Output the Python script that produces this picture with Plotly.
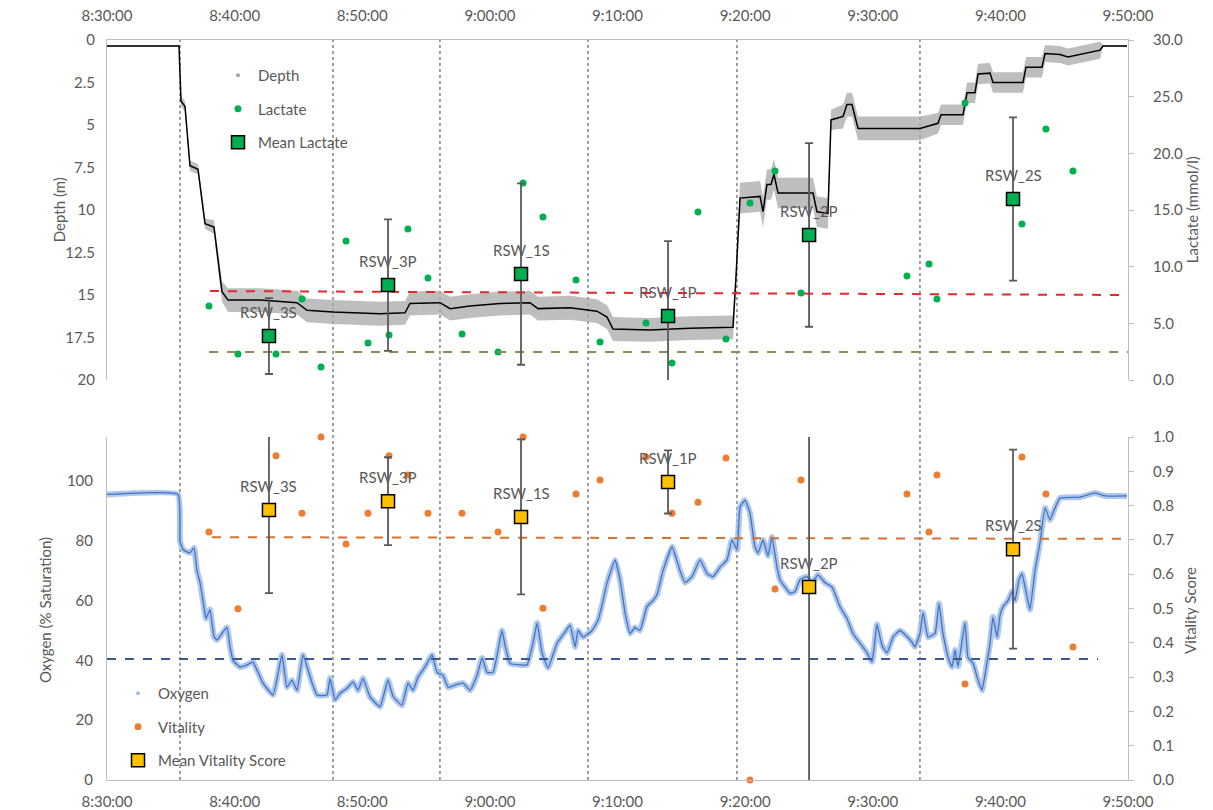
import plotly.graph_objects as go
import pandas as pd

BASE = pd.Timestamp("2020-01-01 08:30:00")

def to_time(mins):
    return [BASE + pd.Timedelta(minutes=m) for m in mins]

# ---------------- data (time as minutes after 8:30:00) ----------------
depth_min = [0, 5.64, 5.80, 6.11, 6.50, 7.13, 7.68, 8.38, 9.01, 9.48,
             11.99, 14.89, 15.67, 17.71, 21.39, 23.35, 23.74, 26.09, 26.88, 28.44,
             30.79, 33.14, 33.77, 36.28, 38.39, 39.18, 39.65, 42.55, 45.68, 49.05,
             49.28, 49.60, 51.17, 51.40, 51.71, 52.03, 52.26, 52.58, 55.32, 55.63,
             56.49, 56.73, 57.67, 57.98, 58.37, 58.85, 63.70, 65.11, 65.35, 67.07,
             67.39, 68.01, 68.25, 69.19, 69.42, 71.77, 72.01, 73.26, 73.50, 74.67,
             75.30, 76.63, 77.81, 78.04, 79.92]
depth_m = [0.35, 0.35, 3.6, 3.9, 7.4, 7.6, 10.8, 11.0, 14.8, 15.3,
           15.3, 15.45, 15.9, 16.0, 16.1, 16.05, 15.5, 15.45, 15.8, 15.65,
           15.5, 15.45, 15.8, 15.75, 15.95, 16.3, 17.0, 17.05, 16.95, 16.9,
           14.0, 9.3, 9.2, 10.1, 8.5, 8.5, 7.9, 9.0, 9.0, 10.1,
           10.2, 4.7, 4.5, 3.8, 3.8, 5.2, 5.2, 4.9, 4.4, 4.4,
           3.1, 3.1, 2.0, 1.95, 2.5, 2.5, 1.6, 1.6, 0.8, 0.85,
           1.0, 0.8, 0.6, 0.35, 0.35]
depth_spread = [0.05, 0.05, 0.3, 0.3, 0.3, 0.3, 0.3, 0.4, 0.6, 0.7,
                0.7, 0.7, 0.7, 0.7, 0.7, 0.7, 0.7, 0.7, 0.7, 0.7,
                0.7, 0.7, 0.7, 0.7, 0.7, 0.7, 0.7, 0.7, 0.7, 0.7,
                0.5, 0.9, 0.9, 0.9, 0.9, 0.9, 0.9, 0.9, 0.9, 0.9,
                0.9, 0.6, 0.7, 0.7, 0.7, 0.7, 0.7, 0.6, 0.6, 0.6,
                0.6, 0.6, 0.6, 0.6, 0.6, 0.6, 0.6, 0.6, 0.5, 0.5,
                0.5, 0.5, 0.5, 0.05, 0.05]

oxy_min = [0.00, 5.56, 5.72, 5.96, 6.50, 6.82, 7.05, 7.29, 7.52, 7.76,
           8.07, 8.38, 8.62, 9.01, 9.40, 9.64, 9.87, 10.42, 10.97, 11.44,
           11.75, 12.22, 13.01, 13.71, 14.10, 14.50, 14.89, 15.36, 16.07, 16.45,
           17.24, 17.47, 17.87, 18.26, 18.81, 19.28, 19.67, 20.06, 20.61, 21.39,
           22.02, 22.41, 23.11, 23.58, 23.98, 24.37, 24.92, 25.47, 25.86, 26.33,
           26.72, 27.43, 27.90, 28.45, 29.00, 29.39, 29.78, 30.25, 30.64, 30.95,
           31.19, 31.58, 32.37, 32.91, 33.38, 33.70, 34.09, 34.56, 35.27, 35.89,
           36.28, 36.68, 36.91, 37.30, 38.01, 38.48, 38.87, 39.18, 39.81, 40.20,
           40.59, 40.98, 41.37, 41.76, 42.31, 42.78, 43.10, 43.57, 44.27, 44.90,
           45.29, 45.84, 46.47, 47.02, 47.49, 48.04, 48.58, 48.97, 49.36, 49.60,
           49.99, 50.38, 50.77, 51.01, 51.40, 51.79, 52.10, 52.50, 52.73, 53.12,
           53.51, 53.91, 54.30, 54.85, 55.24, 55.71, 56.26, 56.81, 57.43, 57.98,
           58.45, 59.00, 59.55, 59.94, 60.10, 60.33, 60.73, 61.12, 61.59, 62.14,
           62.68, 63.08, 63.31, 63.70, 63.94, 64.33, 64.88, 65.19, 65.50, 65.90,
           66.21, 66.45, 66.68, 67.23, 67.46, 67.86, 68.25, 68.56, 68.79, 69.19,
           69.42, 69.74, 69.97, 70.21, 70.60, 70.91, 71.15, 71.46, 71.69, 72.01,
           72.32, 72.71, 73.10, 73.50, 73.89, 74.28, 74.67, 76.24, 77.42, 78.20,
           79.92]
oxy_pct = [95.5, 95.5, 80, 77, 76, 77.6, 70, 66, 60, 54,
           57, 48, 46.8, 49, 51, 44.5, 40, 37.8, 38.5, 39.5,
           36.8, 32.4, 28.4, 41.8, 31, 33.4, 30, 41.8, 32.4, 28.4,
           28.4, 34, 26.8, 29, 30.7, 32.8, 30, 34, 27.8, 24.5,
           33.4, 28, 25, 32.4, 30, 34.4, 37.8, 41.8, 36, 35,
           31, 32, 32.4, 30, 35, 40.8, 36, 36, 43.5, 50,
           45, 39, 38.5, 38.5, 45.8, 52.5, 42.5, 37.5, 45.8, 49.5,
           51.8, 44.5, 50, 47.8, 50, 53.5, 60, 65.9, 73.6, 67,
           56, 49, 51, 50, 58, 60, 62, 70, 78, 70,
           66, 68, 73.6, 69, 68, 71.2, 73.6, 80.3, 77, 91.3,
           93.6, 89.3, 78, 75.9, 80.3, 75, 81.3, 71.2, 67, 64.5,
           62.5, 63, 67, 68, 66, 68.6, 66, 64.5, 58, 54,
           49, 45.8, 42.5, 39.5, 44, 52, 45, 42.5, 47.8, 50,
           48, 46, 44.5, 49, 56, 47.8, 49, 59, 49, 41,
           37.8, 43.5, 38, 52.5, 41, 39, 33.4, 30, 35, 45.8,
           54.5, 47.8, 55, 58, 60, 63, 60, 67, 69, 63,
           57, 70, 79.3, 91, 87, 91, 94.3, 94.6, 96, 95,
           95]

sample_min = [7.99, 10.26, 13.24, 15.28, 16.77, 18.73, 20.45, 22.10, 23.58, 25.15,
              27.82, 30.64, 32.60, 34.16, 36.75, 38.63, 42.23, 44.27, 46.31, 48.50,
              50.38, 52.34, 54.38, 62.68, 64.41, 65.03, 67.23, 71.69, 73.57, 75.69]
lactate = [6.53, 2.29, 2.29, 7.15, 1.15, 12.26, 3.26, 3.97, 13.32, 9.0,
           4.06, 2.47, 17.38, 14.38, 8.82, 3.35, 5.03, 1.5, 14.82, 3.62,
           15.62, 18.44, 7.68, 9.18, 10.24, 7.15, 24.44, 13.76, 22.15, 18.44]
vitality = [0.723, 0.499, 0.945, 0.778, 1.0, 0.688, 0.778, 0.945, 0.889, 0.778,
            0.778, 0.723, 1.0, 0.501, 0.834, 0.875, 0.942, 0.778, 0.81, 0.939,
            0.0, 0.557, 0.875, 0.834, 0.723, 0.889, 0.28, 0.942, 0.834, 0.388]

sites = ["RSW_3S", "RSW_3P", "RSW_1S", "RSW_1P", "RSW_2P", "RSW_2S"]
site_min = [12.69, 22.02, 32.44, 43.96, 55.01, 70.99]
mean_lactate = [3.88, 8.38, 9.35, 5.65, 12.8, 15.97]
err_lactate = [3.35, 5.8, 8.0, 6.6, 8.1, 7.2]
mean_vitality = [0.787, 0.813, 0.767, 0.869, 0.563, 0.673]
err_vitality = [0.242, 0.128, 0.226, 0.092, 0.7, 0.29]

event_min = [5.72, 17.71, 26.09, 37.69, 49.36, 63.70]

red_line_min = [8.07, 80.0]
red_line_val = [7.85, 7.5]
olive_line_min = [8.0, 80.0]
olive_line_val = [2.47, 2.47]
oxy_line_min = [0.0, 77.65]
oxy_line_val = [40.5, 40.5]
vit_line_min = [8.23, 80.0]
vit_line_val = [0.708, 0.703]

# ---------------- styling ----------------
FONT = "Lato"
TXT = "#595959"
AX = "#bfbfbf"
FS = 15

fig = go.Figure()

# --- top panel: depth ---
d_lo = [d + s for d, s in zip(depth_m, depth_spread)]
d_hi = [d - s for d, s in zip(depth_m, depth_spread)]
fig.add_trace(go.Scatter(x=to_time(depth_min), y=d_lo, mode="lines",
                         line=dict(width=0, color="rgba(0,0,0,0)"),
                         showlegend=False, hoverinfo="skip", xaxis="x", yaxis="y"))
fig.add_trace(go.Scatter(x=to_time(depth_min), y=d_hi, mode="lines",
                         line=dict(width=0, color="rgba(0,0,0,0)"),
                         fill="tonexty", fillcolor="rgba(168,168,168,0.75)",
                         showlegend=False, hoverinfo="skip", xaxis="x", yaxis="y"))
fig.add_trace(go.Scatter(x=to_time(depth_min), y=depth_m, mode="lines",
                         line=dict(width=1.5, color="black"),
                         showlegend=False, xaxis="x", yaxis="y"))
fig.add_trace(go.Scatter(x=[None], y=[None], mode="markers", name="Depth",
                         marker=dict(size=4, color="#a5a5a5"),
                         legend="legend", legendgroup="g1", xaxis="x", yaxis="y"))

# --- top panel: lactate ---
fig.add_trace(go.Scatter(x=to_time(sample_min), y=lactate, mode="markers", name="Lactate",
                         marker=dict(size=7, color="#00b050"),
                         legend="legend", legendgroup="g2", xaxis="x", yaxis="y2"))
fig.add_trace(go.Scatter(x=to_time(red_line_min), y=red_line_val, mode="lines",
                         line=dict(color="#e8282b", width=2, dash="dash"),
                         showlegend=False, xaxis="x", yaxis="y2"))
fig.add_trace(go.Scatter(x=to_time(olive_line_min), y=olive_line_val, mode="lines",
                         line=dict(color="#8c8c55", width=2, dash="dash"),
                         showlegend=False, xaxis="x", yaxis="y2"))
fig.add_trace(go.Scatter(x=to_time(site_min), y=mean_lactate, mode="markers", name="Mean Lactate",
                         marker=dict(symbol="square", size=13, color="#00b050",
                                     line=dict(color="black", width=1.5)),
                         error_y=dict(type="data", array=err_lactate, color="#595959",
                                      thickness=1.8, width=4),
                         legend="legend", legendgroup="g3", xaxis="x", yaxis="y2"))

# --- bottom panel: oxygen ---
fig.add_trace(go.Scatter(x=to_time(oxy_min), y=oxy_pct, mode="lines",
                         line=dict(width=6, color="rgba(160,190,232,0.85)",
                                   shape="spline", smoothing=0.35),
                         showlegend=False, hoverinfo="skip", xaxis="x2", yaxis="y3"))
fig.add_trace(go.Scatter(x=to_time(oxy_min), y=oxy_pct, mode="lines",
                         line=dict(width=1.3, color="#4472c4", shape="spline", smoothing=0.35),
                         showlegend=False, xaxis="x2", yaxis="y3"))
fig.add_trace(go.Scatter(x=[None], y=[None], mode="markers", name="Oxygen",
                         marker=dict(size=4, color="#a0bee8"),
                         legend="legend2", legendgroup="h1", xaxis="x2", yaxis="y3"))
fig.add_trace(go.Scatter(x=to_time(oxy_line_min), y=oxy_line_val, mode="lines",
                         line=dict(color="#3b5a92", width=2, dash="dash"),
                         showlegend=False, xaxis="x2", yaxis="y3"))

# --- bottom panel: vitality ---
fig.add_trace(go.Scatter(x=to_time(sample_min), y=vitality, mode="markers", name="Vitality",
                         marker=dict(size=7, color="#ed7d31"), cliponaxis=False,
                         legend="legend2", legendgroup="h2", xaxis="x2", yaxis="y4"))
fig.add_trace(go.Scatter(x=to_time(vit_line_min), y=vit_line_val, mode="lines",
                         line=dict(color="#d9712f", width=2, dash="dash"),
                         showlegend=False, xaxis="x2", yaxis="y4"))
fig.add_trace(go.Scatter(x=to_time(site_min), y=mean_vitality, mode="markers",
                         name="Mean Vitality Score",
                         marker=dict(symbol="square", size=13, color="#ffc000",
                                     line=dict(color="black", width=1.5)),
                         error_y=dict(type="data", array=err_vitality, color="#595959",
                                      thickness=1.8, width=4),
                         legend="legend2", legendgroup="h3", xaxis="x2", yaxis="y4"))

# --- labels ---
annotations = []
for name, m, lv, vv in zip(sites, site_min, mean_lactate, mean_vitality):
    tm = BASE + pd.Timedelta(minutes=m)
    annotations.append(dict(x=tm, y=lv, xref="x", yref="y2", text=name, showarrow=False,
                            yshift=24, font=dict(size=FS, color=TXT, family=FONT)))
    annotations.append(dict(x=tm, y=vv, xref="x2", yref="y4", text=name, showarrow=False,
                            yshift=24, font=dict(size=FS, color=TXT, family=FONT)))

# axis titles
axis_titles = [("Depth (m)", -0.047, 0.770), ("Lactate (mmol/l)", 1.0627, 0.770),
               ("Oxygen (% Saturation)", -0.0607, 0.2297), ("Vitality Score", 1.0607, 0.2297)]
for text, px, py in axis_titles:
    annotations.append(dict(x=px, y=py, xref="paper", yref="paper", text=text, showarrow=False,
                            textangle=-90, xanchor="center", yanchor="middle",
                            font=dict(size=FS, color=TXT, family=FONT)))

shapes = []
for m in event_min:
    tm = BASE + pd.Timedelta(minutes=m)
    shapes.append(dict(type="line", xref="x", yref="paper", x0=tm, x1=tm, y0=0, y1=1,
                       line=dict(color="#404040", width=1, dash="dot"), layer="below"))

xr = [BASE, BASE + pd.Timedelta(minutes=80)]
tickfont = dict(size=FS, color=TXT, family=FONT)
common_x = dict(type="date", range=xr, tick0=BASE, dtick=600000, tickformat="%-H:%M:%S",
                showgrid=False, zeroline=False, showline=True, linecolor=AX, linewidth=1,
                ticks="", tickfont=tickfont, automargin=False)
common_y = dict(showgrid=False, zeroline=False, showline=True, linecolor=AX, linewidth=1,
                tickfont=tickfont, automargin=False)

fig.update_layout(
    template="none",
    width=1213, height=810,
    margin=dict(l=107, r=85, t=40, b=30),
    paper_bgcolor="white", plot_bgcolor="white",
    font=dict(family=FONT, size=FS, color=TXT),
    xaxis=dict(**common_x, domain=[0, 1], anchor="y", side="top", ticklabelstandoff=12),
    yaxis=dict(**common_y, domain=[0.5405, 1], anchor="x", range=[20, 0], dtick=2.5,
               ticks="", ticklabelstandoff=8),
    yaxis2=dict(**common_y, overlaying="y", side="right", anchor="x", range=[0, 30], dtick=5,
                tickformat=".1f", ticks="outside", ticklen=5, tickcolor=AX,
                ticklabelstandoff=16),
    xaxis2=dict(**common_x, domain=[0, 1], anchor="y3", side="bottom", ticklabelstandoff=8),
    yaxis3=dict(**common_y, domain=[0, 0.4635], anchor="x2", range=[0, 114.7], dtick=20,
                ticks="", ticklabelstandoff=10),
    yaxis4=dict(**common_y, overlaying="y3", side="right", anchor="x2", range=[0, 1], dtick=0.1,
                tickformat=".1f", ticks="outside", ticklen=5, tickcolor=AX,
                ticklabelstandoff=16),
    legend=dict(x=0.1087, y=0.9744, xanchor="left", yanchor="top", bgcolor="rgba(0,0,0,0)",
                font=dict(size=FS, color=TXT), traceorder="grouped", tracegroupgap=11),
    legend2=dict(x=0.0108, y=0.1392, xanchor="left", yanchor="top", bgcolor="rgba(0,0,0,0)",
                 font=dict(size=FS, color=TXT), traceorder="grouped", tracegroupgap=11),
    annotations=annotations,
    shapes=shapes,
    showlegend=True,
)

fig.write_html("out.html", config={"displayModeBar": False},
               post_script="document.body.style.margin='0';")
